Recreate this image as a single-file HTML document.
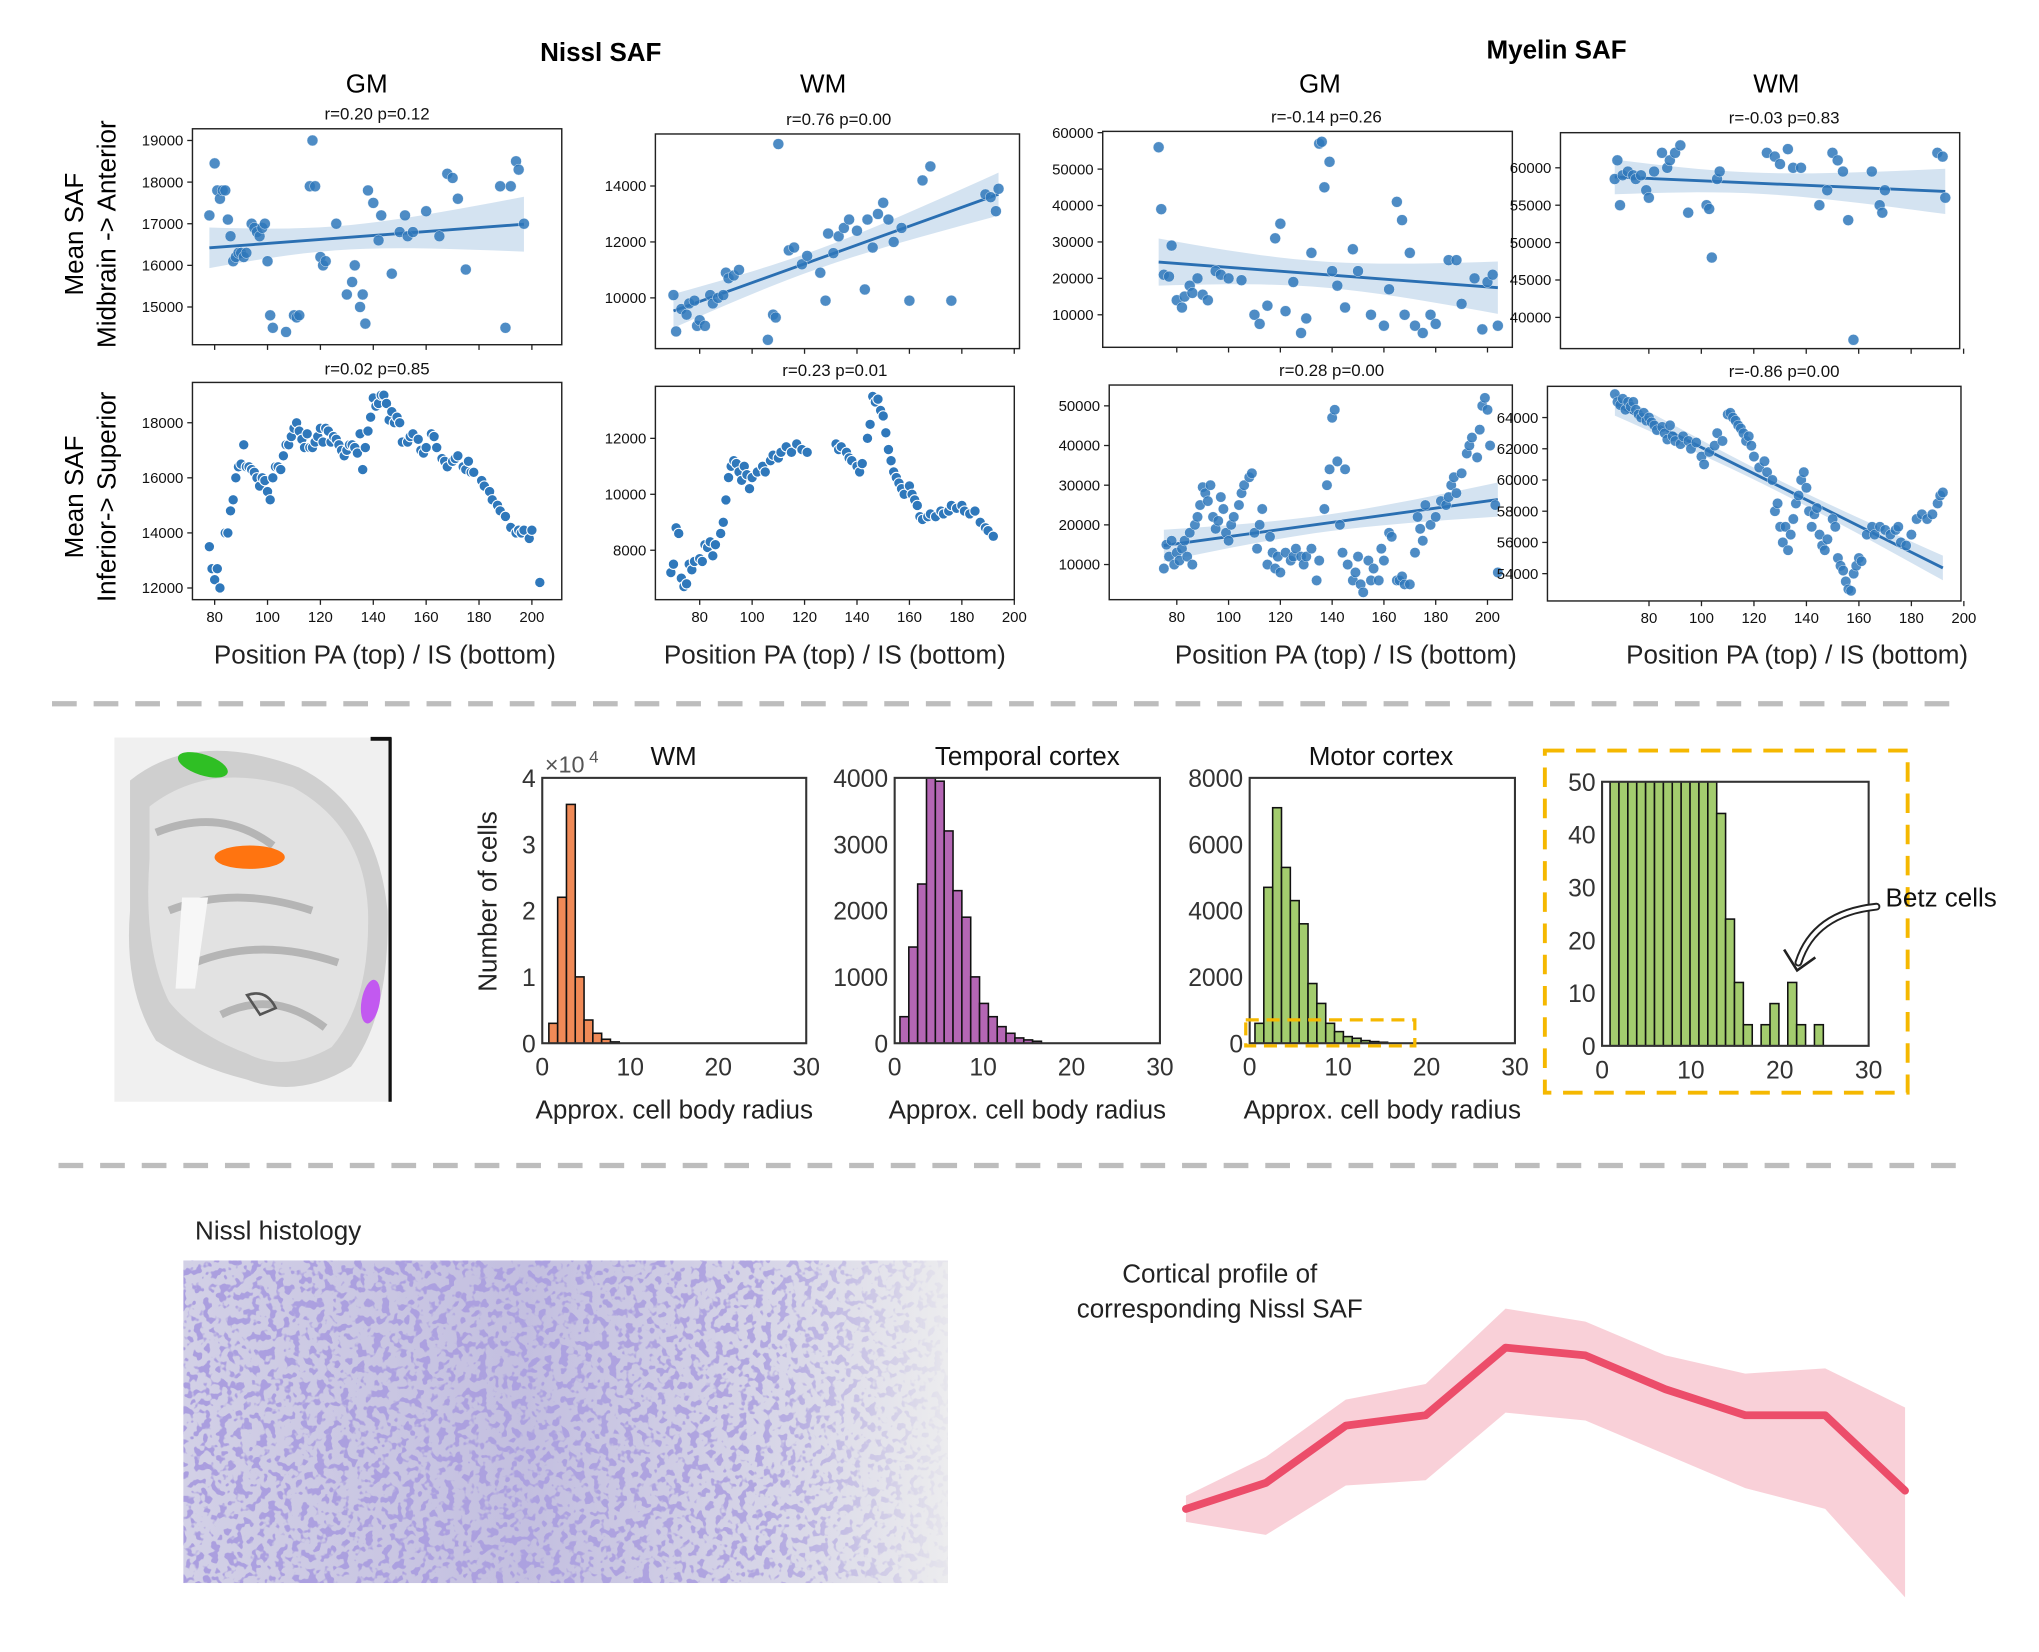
<!DOCTYPE html>
<html><head><meta charset="utf-8"><style>
html,body{margin:0;padding:0;background:#fff}
svg{display:block}
text{font-family:"Liberation Sans","DejaVu Sans",sans-serif}
</style></head><body>
<svg id="fig" width="2039" height="1652" viewBox="0 0 1568 1270" preserveAspectRatio="none" xmlns="http://www.w3.org/2000/svg">
<defs>
<filter id="speck" x="0" y="0" width="100%" height="100%">
<feTurbulence type="fractalNoise" baseFrequency="0.16" numOctaves="2" seed="4" result="n"/>
<feColorMatrix in="n" type="matrix" values="0 0 0 0 0.40  0 0 0 0 0.34  0 0 0 0 0.74  12 0 0 0 -6.3" result="c"/>
<feComposite in="c" in2="SourceGraphic" operator="in"/>
</filter>
<linearGradient id="histoBase" x1="0" x2="1" y1="0" y2="0">
<stop offset="0" stop-color="#d2d0e6"/><stop offset="0.45" stop-color="#c3bfe0"/><stop offset="0.8" stop-color="#d9d8e8"/><stop offset="1" stop-color="#ececee"/>
</linearGradient>
<linearGradient id="histoMask" x1="0" x2="1"><stop offset="0" stop-color="#fff"/><stop offset="0.75" stop-color="#ddd"/><stop offset="1" stop-color="#111"/></linearGradient>
<mask id="hm"><rect x="141" y="969" width="588" height="248" fill="url(#histoMask)"/></mask>
</defs>

<g>
<text x="462" y="47" font-size="20" font-weight="bold" text-anchor="middle">Nissl SAF</text>
<text x="1197" y="45" font-size="20" font-weight="bold" text-anchor="middle">Myelin  SAF</text>
<text x="282" y="71" font-size="20" text-anchor="middle">GM</text>
<text x="633" y="71" font-size="20" text-anchor="middle">WM</text>
<text x="1015" y="71" font-size="20" text-anchor="middle">GM</text>
<text x="1366" y="71" font-size="20" text-anchor="middle">WM</text>
<text transform="translate(64,180) rotate(-90)" font-size="20" text-anchor="middle">Mean SAF</text>
<text transform="translate(89,180) rotate(-90)" font-size="20" text-anchor="middle">Midbrain -&gt; Anterior</text>
<text transform="translate(64,382) rotate(-90)" font-size="20" text-anchor="middle">Mean SAF</text>
<text transform="translate(89,382) rotate(-90)" font-size="20" text-anchor="middle">Inferior-&gt; Superior</text>
<text x="296" y="510" font-size="20" text-anchor="middle" fill="#222">Position PA (top) / IS (bottom)</text>
<text x="642" y="510" font-size="20" text-anchor="middle" fill="#222">Position PA (top) / IS (bottom)</text>
<text x="1035" y="510" font-size="20" text-anchor="middle" fill="#222">Position PA (top) / IS (bottom)</text>
<text x="1382" y="510" font-size="20" text-anchor="middle" fill="#222">Position PA (top) / IS (bottom)</text>
</g>

<g id="scatters"></g>

<line x1="40" y1="541" x2="1512" y2="541" stroke="#bdbdbd" stroke-width="4" stroke-dasharray="19 13"/>
<line x1="45" y1="896" x2="1512" y2="896" stroke="#bdbdbd" stroke-width="4" stroke-dasharray="19 13"/>

<g>
<rect x="88" y="567" width="213" height="280" fill="#f0f0f0"/>
<path d="M100 600 Q150 560 230 590 Q290 620 298 700 Q300 780 270 820 Q230 845 190 830 Q150 820 120 800 Q95 760 100 700 Z" fill="#cfcfcf"/>
<path d="M115 620 Q160 585 225 605 Q280 635 283 700 Q285 770 255 805 Q220 825 190 810 Q150 795 130 770 Q110 730 115 660 Z" fill="#e2e2e2"/>
<path d="M120 640 Q170 620 210 650 M130 700 Q180 680 240 700 M150 740 Q200 720 260 740 M170 780 Q210 760 250 790" stroke="#b5b5b5" stroke-width="6" fill="none"/>
<path d="M140 690 L160 690 L150 760 L135 760 Z" fill="#f7f7f7"/>
<path d="M190 765 Q205 760 212 775 L200 780 Z" fill="none" stroke="#555" stroke-width="2"/>
<line x1="300" y1="567" x2="300" y2="847" stroke="#111" stroke-width="2.5"/>
<line x1="285" y1="568" x2="301" y2="568" stroke="#111" stroke-width="3"/>
<ellipse cx="156" cy="588" rx="20" ry="8" transform="rotate(18 156 588)" fill="#2fbf24"/>
<ellipse cx="192" cy="659" rx="27" ry="9" fill="#ff7410"/>
<ellipse cx="285" cy="770" rx="7" ry="17" transform="rotate(10 285 770)" fill="#c259f0"/>
</g>

<g id="hists"></g>
<text transform="translate(382,693) rotate(-90)" font-size="20" text-anchor="middle" fill="#222">Number of cells</text>

<rect x="1188" y="577" width="279" height="263" fill="none" stroke="#f5b800" stroke-width="3" stroke-dasharray="15 9"/>
<rect x="958" y="784" width="130" height="20" fill="none" stroke="#f5b800" stroke-width="2.5" stroke-dasharray="10 6"/>
<text x="1450" y="697" font-size="20" fill="#111">Betz cells</text>
<path d="M1443 697 Q1395 702 1383 740" fill="none" stroke="#222" stroke-width="6" stroke-linecap="round"/>
<path d="M1443 697 Q1395 702 1383 740" fill="none" stroke="#fff" stroke-width="3" stroke-linecap="round"/>
<path d="M1372 730 L1382 746 L1396 736" fill="none" stroke="#222" stroke-width="2"/>

<text x="150" y="953" font-size="20" fill="#222">Nissl histology</text>
<g>
<rect x="141" y="969" width="588" height="248" fill="url(#histoBase)"/>
<rect x="141" y="969" width="588" height="248" fill="#fff" filter="url(#speck)" mask="url(#hm)"/>
</g>

<text x="938" y="986" font-size="20" text-anchor="middle" fill="#222">Cortical profile of</text>
<text x="938" y="1013" font-size="20" text-anchor="middle" fill="#222">corresponding Nissl SAF</text>
<g id="profile"></g>

<script>
// ---------- scatter data ----------
const p1Data=[[78,17200],[80,18450],[81,17800],[82,17600],[83,17800],[84,17800],[85,17100],[86,16700],[87,16100],[88,16200],[89,16300],[90,16300],[91,16200],[92,16300],[94,17000],[95,16900],[96,16800],[97,16700],[98,16900],[99,17000],[100,16100],[101,14800],[102,14500],[107,14400],[110,14800],[111,14750],[112,14800],[116,17900],[117,19000],[118,17900],[120,16200],[121,16000],[122,16100],[126,17000],[130,15300],[132,15600],[133,16000],[135,15000],[136,15300],[137,14600],[138,17800],[140,17500],[142,16600],[143,17200],[147,15800],[150,16800],[152,17200],[153,16700],[155,16800],[160,17300],[165,16700],[168,18200],[170,18100],[172,17600],[175,15900],[188,17900],[190,14500],[192,17900],[194,18500],[195,18300],[197,17000]];
const p2Data=[[70,10100],[71,8800],[73,9600],[75,9400],[76,9800],[78,9900],[79,9000],[80,9200],[82,9000],[84,10100],[85,9800],[87,10000],[89,10100],[90,10900],[91,10700],[93,10800],[95,11000],[106,8500],[108,9400],[109,9300],[110,15500],[114,11700],[116,11800],[119,11200],[121,11500],[126,10900],[128,9900],[129,12300],[131,11600],[133,12200],[135,12500],[137,12800],[140,12400],[143,10300],[144,12800],[146,11800],[148,13000],[150,13400],[152,12800],[154,12000],[157,12500],[160,9900],[165,14200],[168,14700],[176,9900],[189,13700],[191,13600],[193,13100],[194,13900]];
const p3Data=[[73,56000],[74,39000],[75,21000],[77,20500],[78,29000],[80,14000],[82,12000],[83,15000],[85,18000],[86,16000],[88,20000],[90,15500],[92,14000],[95,22000],[97,21000],[100,20000],[105,19500],[110,10000],[112,7500],[115,12500],[118,31000],[120,35000],[122,11000],[125,19000],[128,5000],[130,9000],[132,27000],[135,57000],[136,57500],[137,45000],[139,52000],[140,22000],[142,18000],[145,12000],[148,28000],[150,22000],[155,10000],[160,7000],[162,17000],[165,41000],[167,36000],[168,10000],[170,27000],[172,7000],[175,5000],[178,10000],[180,7500],[185,25000],[188,25000],[190,13000],[195,20000],[198,6000],[200,19000],[202,21000],[204,7000]];
const p4Data=[[67,58500],[68,61000],[69,55000],[70,59000],[72,59500],[74,59000],[75,58500],[77,59000],[79,57000],[80,56000],[82,59500],[85,62000],[87,60000],[88,61000],[90,62000],[92,63000],[95,54000],[102,55000],[103,54500],[104,48000],[106,58500],[107,59500],[125,62000],[128,61500],[130,60500],[133,62500],[135,60000],[138,60000],[145,55000],[148,57000],[150,62000],[152,61000],[154,59500],[156,53000],[158,37000],[165,59500],[168,55000],[169,54000],[170,57000],[190,62000],[192,61500],[193,56000]];
const p5Data=[[78,13500],[79,12700],[80,12300],[81,12700],[82,12000],[84,14000],[85,14000],[86,14800],[87,15200],[88,16000],[89,16400],[90,16500],[91,17200],[92,16400],[93,16400],[94,16300],[95,16200],[96,16000],[97,15700],[98,16000],[99,15900],[100,15500],[101,15200],[102,16000],[103,16400],[104,16400],[105,16300],[106,16800],[107,17200],[108,17200],[109,17500],[110,17800],[111,18000],[112,17700],[113,17400],[114,17100],[115,17600],[116,17100],[117,17100],[118,17300],[119,17500],[120,17800],[121,17300],[122,17800],[123,17700],[124,17300],[125,17500],[126,17400],[127,17200],[128,17000],[129,16800],[130,17000],[131,17200],[132,17200],[133,17100],[134,16900],[135,17600],[136,16300],[137,17100],[138,17700],[139,18200],[140,18900],[141,18600],[142,18700],[143,19000],[144,19000],[145,18700],[146,18100],[147,18400],[148,18000],[149,18200],[150,18000],[151,17300],[153,17300],[154,17500],[155,17600],[157,17400],[158,17000],[159,16900],[160,17100],[162,17600],[163,17500],[164,17100],[166,16700],[167,16600],[168,16400],[170,16600],[171,16700],[172,16800],[174,16400],[175,16300],[176,16600],[177,16200],[178,16200],[181,15900],[182,15700],[184,15500],[185,15200],[187,15000],[188,14800],[190,14600],[192,14200],[194,14000],[195,14100],[196,14000],[197,14100],[199,13800],[200,14100],[203,12200]];
const p6Data=[[69,7200],[70,7500],[71,8800],[72,8600],[73,7000],[74,6700],[75,6800],[76,7500],[77,7300],[78,7600],[80,7700],[81,7600],[82,8200],[83,8100],[84,8300],[85,7800],[86,8200],[88,8600],[89,9000],[90,9800],[91,10600],[92,11000],[93,11200],[94,11100],[95,10800],[96,10500],[97,11000],[98,10700],[99,10200],[100,10600],[102,10800],[104,11000],[105,10800],[107,11200],[108,11400],[110,11300],[111,11500],[113,11700],[115,11500],[117,11800],[119,11600],[121,11500],[132,11800],[133,11600],[134,11700],[136,11500],[137,11300],[138,11200],[140,11000],[141,10800],[142,11100],[144,12000],[145,12500],[146,13500],[147,13300],[148,13400],[149,13000],[150,12800],[151,12200],[152,11600],[153,11200],[154,10800],[155,10600],[156,10400],[157,10200],[158,10000],[160,10300],[161,10000],[162,9800],[163,9600],[164,9200],[165,9100],[167,9200],[168,9300],[170,9200],[172,9400],[173,9300],[175,9400],[176,9600],[178,9500],[180,9600],[181,9400],[183,9300],[185,9400],[187,9000],[189,8800],[190,8700],[192,8500]];
const p7Data=[[75,9000],[76,15000],[77,12000],[78,16000],[79,10000],[80,13000],[81,11000],[82,14000],[83,16000],[84,12000],[85,18000],[86,10000],[87,20000],[88,22000],[89,25000],[90,29500],[91,28000],[92,26000],[93,30000],[94,22000],[95,19000],[96,21000],[97,27000],[98,24000],[99,18000],[100,16000],[101,20000],[102,22000],[104,25000],[105,28000],[106,30000],[108,32000],[109,33000],[110,18000],[111,14000],[112,20000],[113,24000],[115,10000],[116,17000],[117,13000],[118,9000],[119,12000],[120,8000],[122,13000],[124,11000],[125,12000],[126,14000],[128,12000],[129,10000],[130,12000],[132,14000],[134,6000],[135,11000],[137,24000],[138,30000],[139,34000],[140,47000],[141,49000],[142,36000],[143,20000],[144,13000],[145,34000],[146,10000],[148,6000],[149,8000],[150,12000],[151,5000],[152,3000],[154,11000],[155,6000],[156,9000],[158,6000],[159,14000],[160,11000],[162,18000],[163,17000],[165,6000],[166,6000],[167,7000],[168,5000],[170,5000],[172,13000],[173,22000],[174,19000],[175,16000],[176,25000],[178,20000],[180,22000],[182,26000],[184,25000],[185,27000],[186,30000],[187,32000],[188,28000],[190,33000],[192,38000],[193,40000],[194,42000],[196,37000],[197,44000],[198,50000],[199,52000],[200,49000],[201,40000],[203,25000],[204,8000]];
const p8Data=[[67,65500],[68,65000],[69,64800],[70,65200],[71,64500],[72,65000],[73,64700],[74,65000],[75,64500],[76,64200],[77,64000],[78,64300],[79,63800],[80,64000],[81,63700],[82,63500],[83,63200],[85,63400],[86,63000],[87,62600],[88,63500],[89,62800],[90,62500],[92,62300],[93,62800],[95,62500],[96,62000],[98,62400],[100,61500],[101,61000],[103,61800],[105,62200],[106,63000],[108,62500],[110,64200],[111,64300],[112,64000],[113,63800],[114,63500],[115,63300],[116,63000],[117,62500],[118,62800],[119,62200],[120,61500],[122,60800],[124,61200],[125,60500],[127,60000],[128,58000],[129,58500],[130,57000],[131,56000],[132,57000],[133,55500],[134,56500],[135,57500],[136,58500],[137,59000],[138,60000],[139,60500],[140,59500],[141,58000],[142,57000],[143,57800],[144,58200],[145,56500],[146,55800],[147,55500],[148,56200],[150,57500],[151,57000],[152,55000],[153,54500],[154,54200],[155,53500],[156,53000],[157,52900],[158,54000],[159,54500],[160,55000],[161,54800],[163,56500],[165,57000],[166,56500],[168,57000],[170,56800],[172,56500],[174,56800],[175,57000],[176,56000],[178,55800],[180,56500],[182,57500],[184,57800],[186,57500],[188,57800],[190,58500],[191,59000],[192,59200]];
const xTicks=[80,100,120,140,160,180,200];
const p1YTicks=[15000,16000,17000,18000,19000];
const p2YTicks=[10000,12000,14000];
const p3YTicks=[10000,20000,30000,40000,50000,60000];
const p4YTicks=[40000,45000,50000,55000,60000];
const p5YTicks=[12000,14000,16000,18000];
const p6YTicks=[8000,10000,12000];
const p7YTicks=[10000,20000,30000,40000,50000];
const p8YTicks=[54000,56000,58000,60000,62000,64000];
const titles=["r=0.20 p=0.12","r=0.76 p=0.00","r=-0.14 p=0.26","r=-0.03 p=0.83","r=0.02 p=0.85","r=0.23 p=0.01","r=0.28 p=0.00","r=-0.86 p=0.00"];

// ---------- histogram data ----------
const wmCounts=[0.3,2.2,3.6,1.0,0.35,0.15,0.06,0.02];
const temporalCounts=[400,1450,2400,4000,3950,3200,2300,1900,1000,600,400,250,150,80,50,30];
const motorCounts=[600,4700,7100,5300,4300,3600,1800,1200,600,350,200,150,80,50,30];
const betzCounts=[50,50,50,50,50,50,50,50,50,50,50,50,44,24,12,4,0,4,8,0,12,4,0,4];
const histXTicks=[0,10,20,30];

// ---------- cortical profile data ----------
const profileMean=[0.10,0.20,0.42,0.46,0.72,0.69,0.56,0.46,0.46,0.17];
const profileLow=[0.05,0.0,0.19,0.21,0.47,0.44,0.31,0.18,0.10,-0.24];
const profileHigh=[0.15,0.30,0.52,0.58,0.87,0.82,0.69,0.62,0.64,0.49];

const NS="http://www.w3.org/2000/svg";
function mk(tag,attrs,parent){const e=document.createElementNS(NS,tag);for(const k in attrs)e.setAttribute(k,attrs[k]);parent.appendChild(e);return e;}

const panels=[
 {data:p1Data,yt:p1YTicks,bx:[148,432],by:[99,265],xd:[71.6,211.3],yd:[19281,14094],reg:true,xl:false,tx:290,ty:92},
 {data:p2Data,yt:p2YTicks,bx:[504,784],by:[103,268],xd:[63.1,202],yd:[15860,8186],reg:true,xl:false,tx:645,ty:96},
 {data:p3Data,yt:p3YTicks,bx:[848,1163],by:[101,267],xd:[51.4,209.6],yd:[60357,1071],reg:true,xl:false,tx:1020,ty:94},
 {data:p4Data,yt:p4YTicks,bx:[1200,1507],by:[102,268],xd:[46.3,198.5],yd:[64696,35826],reg:true,xl:false,tx:1372,ty:95},
 {data:p5Data,yt:p5YTicks,bx:[148,432],by:[294,461],xd:[71.6,211.3],yd:[19464,11576],reg:false,xl:true,tx:290,ty:288},
 {data:p6Data,yt:p6YTicks,bx:[504,780],by:[297,461],xd:[63.1,200],yd:[13860,6233],reg:false,xl:true,tx:642,ty:289},
 {data:p7Data,yt:p7YTicks,bx:[853,1163],by:[296,461],xd:[53.9,209.6],yd:[55246,1148],reg:true,xl:true,tx:1024,ty:289},
 {data:p8Data,yt:p8YTicks,bx:[1190,1508],by:[297,462],xd:[41.3,198.9],yd:[66000,52250],reg:true,xl:true,tx:1372,ty:290}
];
const sc=document.getElementById('scatters');
panels.forEach((p,i)=>{
 const g=mk('g',{},sc);
 
 
 const X=v=>p.bx[0]+(v-p.xd[0])/(p.xd[1]-p.xd[0])*(p.bx[1]-p.bx[0]);
 const Y=v=>p.by[0]+(v-p.yd[0])/(p.yd[1]-p.yd[0])*(p.by[1]-p.by[0]);
 const t=mk('text',{x:p.tx,y:p.ty,'font-size':13,'text-anchor':'middle',fill:'#111'},g);t.textContent=titles[i];
 
 
 if(p.reg){
  const n=p.data.length;let mx=0,my=0;p.data.forEach(d=>{mx+=d[0];my+=d[1];});mx/=n;my/=n;
  let sxx=0,sxy=0;p.data.forEach(d=>{sxx+=(d[0]-mx)**2;sxy+=(d[0]-mx)*(d[1]-my);});
  const b=sxy/sxx,a=my-b*mx;let ss=0;p.data.forEach(d=>{ss+=(d[1]-a-b*d[0])**2;});
  const s=Math.sqrt(ss/(n-2));
  const xs=p.data.map(d=>d[0]);const x0=Math.min(...xs),x1=Math.max(...xs);
  let up=[],lo=[];
  for(let k=0;k<=20;k++){const x=x0+(x1-x0)*k/20;const yh=a+b*x;const se=1.96*s*Math.sqrt(1/n+(x-mx)**2/sxx);
   up.push(X(x)+','+Y(yh+se));lo.unshift(X(x)+','+Y(yh-se));}
  const band=mk('polygon',{points:up.concat(lo).join(' '),fill:'#c5d9ec',opacity:0.75},g);
  
  
  const ln=mk('line',{x1:X(x0),y1:Y(a+b*x0),x2:X(x1),y2:Y(a+b*x1),stroke:'#2a6fb2','stroke-width':2.2},g);
  
  
 }
 p.data.forEach(d=>{
  const c=mk('circle',{cx:X(d[0]),cy:Y(d[1]),r:p.reg&&i<4?4.2:4,fill:'#2f78bb','fill-opacity':p.reg?0.85:1,stroke:'#fff','stroke-width':p.reg?0.3:0.8},g);
  
  
 });
 const box=mk('rect',{x:p.bx[0],y:p.by[0],width:p.bx[1]-p.bx[0],height:p.by[1]-p.by[0],fill:'none',stroke:'#222','stroke-width':1.1},g);
 
 
 p.yt.forEach(v=>{
  const y=Y(v);mk('line',{x1:p.bx[0]-4,x2:p.bx[0],y1:y,y2:y,stroke:'#222'},g);
  const tt=mk('text',{x:p.bx[0]-7,y:y+4,'font-size':11.5,'text-anchor':'end',fill:'#111'},g);tt.textContent=v;
  
  
 });
 xTicks.forEach(v=>{
  const x=X(v);if(x>p.bx[1]+6)return;
  mk('line',{x1:x,x2:x,y1:p.by[1],y2:p.by[1]+4,stroke:'#222'},g);
  if(p.xl){const tt=mk('text',{x:x,y:p.by[1]+17,'font-size':11.5,'text-anchor':'middle',fill:'#111'},g);tt.textContent=v;
   
   }
 });
});

// ---------- histograms ----------
const hists=[
 {counts:wmCounts,bx:[417,620],by:[598,802],ymax:4,start:0.75,w:1,fill:'#f08a57',yt:[0,1,2,3,4],title:'WM',tx:518,exp:true},
 {counts:temporalCounts,bx:[688,892],by:[598,802],ymax:4000,start:0.6,w:1,fill:'#b466b4',yt:[0,1000,2000,3000,4000],title:'Temporal cortex',tx:790},
 {counts:motorCounts,bx:[961,1165],by:[598,802],ymax:8000,start:0.6,w:1,fill:'#a3cc6e',yt:[0,2000,4000,6000,8000],title:'Motor cortex',tx:1062},
 {counts:betzCounts,bx:[1232,1437],by:[601,804],ymax:50,start:0.9,w:1,fill:'#a3cc6e',yt:[0,10,20,30,40,50],title:'',tx:0}
];
const hg=document.getElementById('hists');
hists.forEach((h,i)=>{
 const g=mk('g',{},hg);
 
 
 const X=v=>h.bx[0]+v/30*(h.bx[1]-h.bx[0]);
 const Y=v=>h.by[1]-Math.min(v,h.ymax)/h.ymax*(h.by[1]-h.by[0]);
 h.counts.forEach((c,k)=>{
  if(c<=0)return;
  const x0=X(h.start+k*h.w),x1=X(h.start+(k+1)*h.w);
  const r=mk('rect',{x:x0,y:Y(c),width:x1-x0,height:h.by[1]-Y(c),fill:h.fill,stroke:'#111','stroke-width':1.2},g);
  
  
 });
 const box=mk('rect',{x:h.bx[0],y:h.by[0],width:h.bx[1]-h.bx[0],height:h.by[1]-h.by[0],fill:'none',stroke:'#333','stroke-width':1.6},g);
 
 
 h.yt.forEach(v=>{const t=mk('text',{x:h.bx[0]-5,y:Y(v)+7,'font-size':19,'text-anchor':'end',fill:'#333'},g);t.textContent=v;
  
  });
 histXTicks.forEach(v=>{const t=mk('text',{x:X(v),y:h.by[1]+25,'font-size':19,'text-anchor':'middle',fill:'#333'},g);t.textContent=v;
  
  });
 if(h.title){const t=mk('text',{x:h.tx,y:h.by[0]-10,'font-size':20,'text-anchor':'middle',fill:'#111'},g);t.textContent=h.title;
  
  
  const xl=mk('text',{x:(h.bx[0]+h.bx[1])/2,y:860,'font-size':20,'text-anchor':'middle',fill:'#222'},g);xl.textContent='Approx. cell body radius';
  
  }
 if(h.exp){const t=mk('text',{x:h.bx[0]+2,y:h.by[0]-4,'font-size':18,fill:'#555'},g);t.textContent='×10';
  
  
  const t2=mk('text',{x:h.bx[0]+36,y:h.by[0]-12,'font-size':13,fill:'#555'},g);t2.textContent='4';
  
  }
});

// ---------- cortical profile ----------
const pg=document.getElementById('profile');
const PX=i=>912+i*(1465-912)/(profileMean.length-1);
const PY=v=>1180-v*200;
const bandPts=profileHigh.map((v,i)=>PX(i)+','+PY(v)).concat(profileLow.map((v,i)=>PX(i)+','+PY(v)).reverse());
const pb=mk('polygon',{points:bandPts.join(' '),fill:'#f6bcc8',opacity:0.7},pg);


const pl=mk('polyline',{points:profileMean.map((v,i)=>PX(i)+','+PY(v)).join(' '),fill:'none',stroke:'#ec4d6a','stroke-width':6,'stroke-linejoin':'round','stroke-linecap':'round'},pg);


</script>
</svg>
</body></html>
